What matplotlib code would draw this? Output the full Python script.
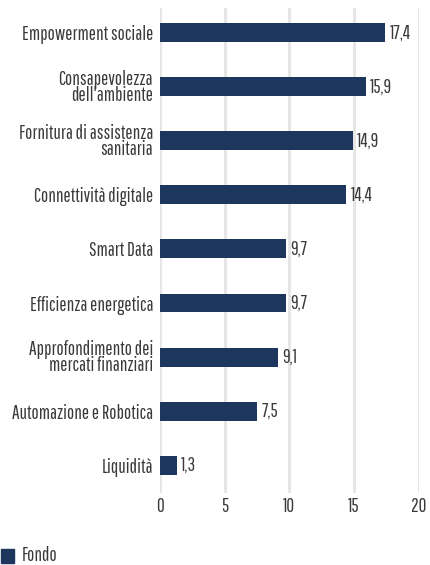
import matplotlib.pyplot as plt

# categories and values (top to bottom)
categories = [
    "Empowerment sociale",
    "Consapevolezza\ndell'ambiente",
    "Fornitura di assistenza\nsanitaria",
    "Connettività digitale",
    "Smart Data",
    "Efficienza energetica",
    "Approfondimento dei\nmercati finanziari",
    "Automazione e Robotica",
    "Liquidità",
]
fondo = [17.4, 15.9, 14.9, 14.4, 9.7, 9.7, 9.1, 7.5, 1.3]
x_ticks = [0, 5, 10, 15, 20]

plt.rcParams["font.family"] = ["Pathway Gothic One", "DejaVu Sans"]

bar_color = "#1c365e"
text_color = "#3a3a3a"
fs = 13.8

fig = plt.figure(figsize=(4.3, 5.65), dpi=100)
ax = fig.add_axes([0.372, 0.127, 0.602, 0.859])

pos = list(range(len(categories)))
ax.barh(pos, fondo, height=0.35, color=bar_color, zorder=3)

for y, v in zip(pos, fondo):
    ax.text(v + 0.35, y, f"{v:.1f}".replace(".", ","), va="center", ha="left",
            fontsize=fs, color=text_color)

ax.set_xlim(0, 20)
ax.set_ylim(8.52, -0.46)
ax.set_xticks(x_ticks)
ax.set_xticklabels([str(t) for t in x_ticks], fontsize=fs, color=text_color)
ax.set_yticks(pos)
ax.set_yticklabels(categories, fontsize=fs, color=text_color, linespacing=0.83)
ax.tick_params(axis="both", length=0, pad=5)
ax.tick_params(axis="x", pad=3)

ax.xaxis.grid(True, color="#e8e6e4", linewidth=2.2, zorder=0)
for s in ax.spines.values():
    s.set_visible(False)

# legend
fig.patches.append(plt.Rectangle((0.002, 0.004), 0.03, 0.025, transform=fig.transFigure,
                                 color=bar_color, figure=fig))
fig.text(0.05, 0.016, "Fondo", fontsize=fs, color=text_color, va="center", ha="left")

fig.savefig("out.png", dpi=100)
